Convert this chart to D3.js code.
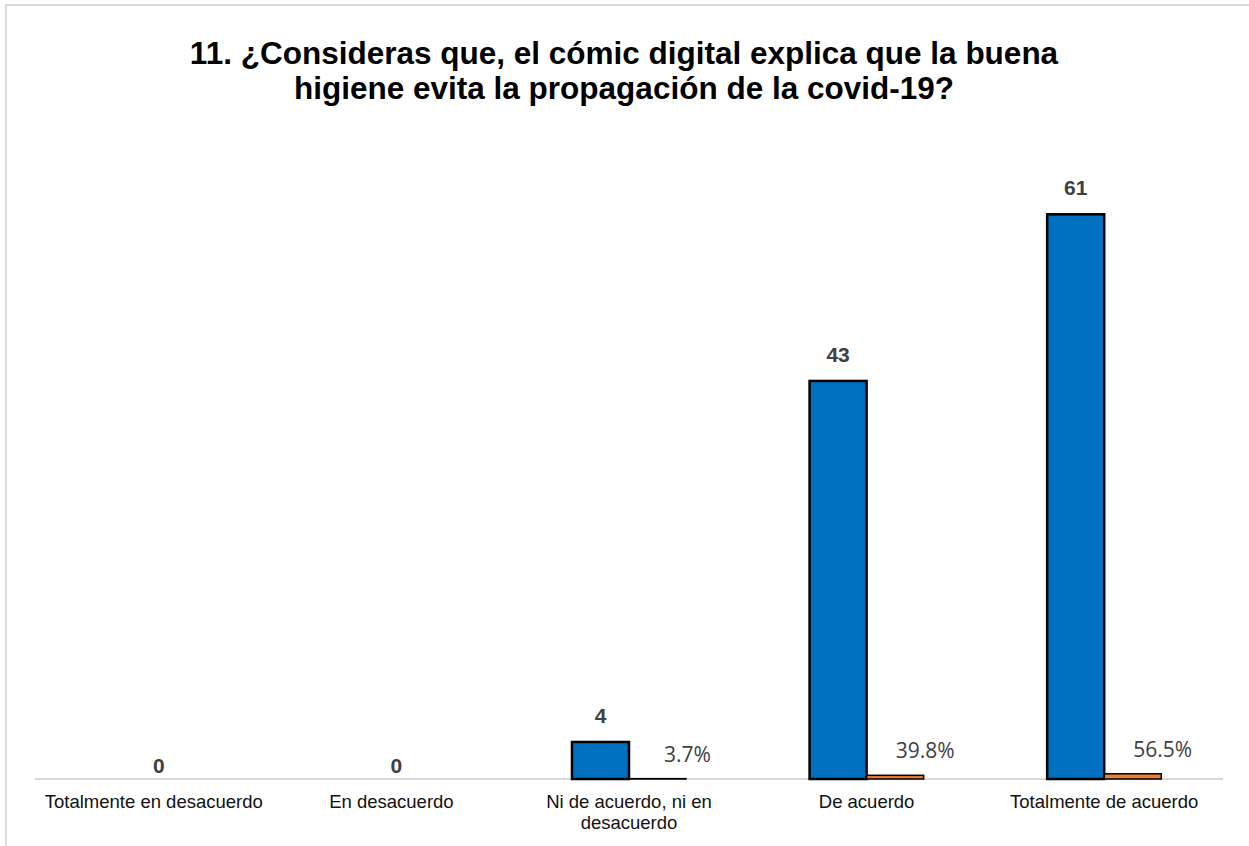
<!DOCTYPE html>
<html>
<head>
<meta charset="utf-8">
<script src="https://cdn.jsdelivr.net/npm/d3@7"></script>
<style>
  html, body { margin: 0; padding: 0; background: #fff; }
  svg { display: block; }
</style>
</head>
<body>
<svg id="chart" width="1249" height="846"></svg>
<script>
// Survey answers for question 11
const categories = [
  "Totalmente en desacuerdo",
  "En desacuerdo",
  "Ni de acuerdo, ni en desacuerdo",
  "De acuerdo",
  "Totalmente de acuerdo"
];
// wrapped label lines for the x axis
const categoryLines = [
  ["Totalmente en desacuerdo"],
  ["En desacuerdo"],
  ["Ni de acuerdo, ni en", "desacuerdo"],
  ["De acuerdo"],
  ["Totalmente de acuerdo"]
];
const counts = [0, 0, 4, 43, 61];
const shares = [0, 0, 0.037, 0.398, 0.565];
const titleLines = [
  "11. ¿Consideras que, el cómic digital explica que la buena",
  "higiene evita la propagación de la covid-19?"
];

const svg = d3.select("#chart");

// outer chart frame
svg.append("rect")
  .attr("x", 6).attr("y", 5)
  .attr("width", 1300).attr("height", 900)
  .attr("fill", "none")
  .attr("stroke", "#d9d9d9")
  .attr("stroke-width", 2);

// title
svg.append("text")
  .attr("text-anchor", "middle")
  .attr("font-family", "'Liberation Sans', Arial, sans-serif")
  .attr("font-weight", "bold")
  .attr("font-size", 31.5)
  .attr("fill", "#000")
  .selectAll("tspan")
  .data(titleLines)
  .join("tspan")
  .attr("x", 624)
  .attr("y", (d, i) => 64 + i * 35)
  .text(d => d);

const baseY = 779;
const x = d3.scaleBand()
  .domain(categories)
  .range([35, 1223])
  .paddingInner(0.52)
  .paddingOuter(0.26);
const sub = d3.scaleBand()
  .domain(["count", "share"])
  .range([0, x.bandwidth()]);
const y = d3.scaleLinear()
  .domain([0, 70])
  .range([baseY, 131]);

const rows = categories.map((c, i) => ({ c, n: counts[i], p: shares[i], lines: categoryLines[i] }));

// category axis line
svg.append("line")
  .attr("x1", 35).attr("x2", 1223)
  .attr("y1", baseY).attr("y2", baseY)
  .attr("stroke", "#d9d9d9")
  .attr("stroke-width", 2);

const g = svg.append("g");

// count bars
g.selectAll("rect.count")
  .data(rows.filter(d => d.n > 0))
  .join("rect")
  .attr("class", "count")
  .attr("x", d => x(d.c) + sub("count"))
  .attr("y", d => y(d.n))
  .attr("width", sub.bandwidth())
  .attr("height", d => baseY - y(d.n))
  .attr("fill", "#0070C0")
  .attr("stroke", "#000")
  .attr("stroke-width", 2.5);

// share bars (plotted on the same axis, so they stay very short)
g.selectAll("rect.share")
  .data(rows.filter(d => d.p > 0))
  .join("rect")
  .attr("class", "share")
  .attr("x", d => x(d.c) + sub("share"))
  .attr("y", d => y(d.p))
  .attr("width", sub.bandwidth())
  .attr("height", d => baseY - y(d.p))
  .attr("fill", "#ED7D31")
  .attr("stroke", "#000")
  .attr("stroke-width", 1.5);

// count labels
g.selectAll("text.count")
  .data(rows)
  .join("text")
  .attr("class", "count")
  .attr("text-anchor", "middle")
  .attr("font-family", "'Liberation Sans', Arial, sans-serif")
  .attr("font-weight", "bold")
  .attr("font-size", 21)
  .attr("fill", "#404040")
  .attr("x", d => d.n === 0 ? x(d.c) + x.bandwidth() / 2 + 5 : x(d.c) + sub("count") + sub.bandwidth() / 2)
  .attr("y", d => d.n === 0 ? y(0) - 6 : y(d.n) - 19)
  .text(d => d.n);

// share labels
const pct = d3.format(".1%");
g.selectAll("text.share")
  .data(rows.filter(d => d.p > 0))
  .join("text")
  .attr("class", "share")
  .attr("text-anchor", "middle")
  .attr("font-family", "'Open Sans', sans-serif")
  .attr("font-size", 21)
  .attr("fill", "#404040")
  .attr("x", d => x(d.c) + sub("share") + sub.bandwidth() / 2 + 30)
  .attr("y", d => y(d.p) - 17)
  .text(d => pct(d.p));

// category labels
g.selectAll("text.cat")
  .data(rows)
  .join("text")
  .attr("class", "cat")
  .attr("text-anchor", "middle")
  .attr("font-family", "'Liberation Sans', Arial, sans-serif")
  .attr("font-size", 18.5)
  .attr("fill", "#111")
  .each(function (d) {
    d3.select(this).selectAll("tspan")
      .data(d.lines)
      .join("tspan")
      .attr("x", x(d.c) + x.bandwidth() / 2)
      .attr("y", (t, i) => 808 + i * 21)
      .text(t => t);
  });
</script>
</body>
</html>
